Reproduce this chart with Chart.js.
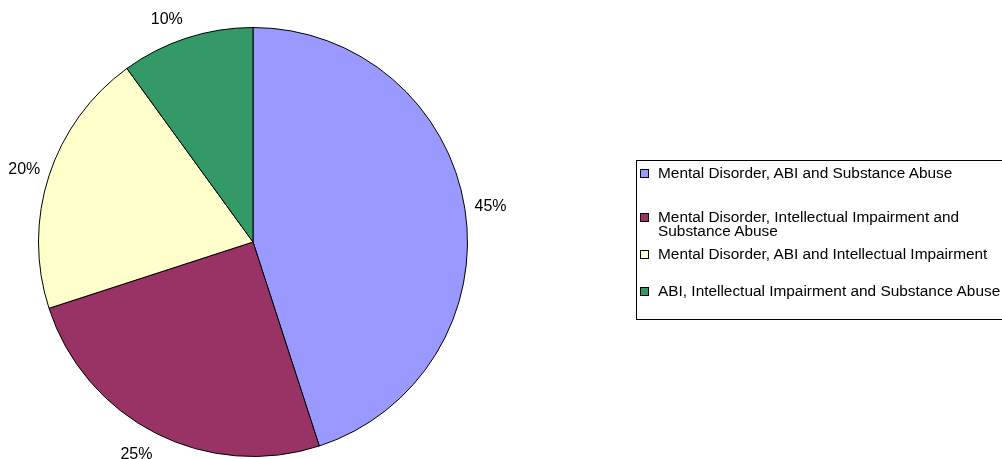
<!DOCTYPE html>
<html lang="en">
<head>
  <meta charset="UTF-8">
  <title>Pie chart</title>
  <style>
    body {
      margin: 0;
      background: #fff;
      font-family: "Liberation Sans", Arial, sans-serif;
    }
    #wrap {
      position: relative;
      width: 1002px;
      height: 459px;
      overflow: hidden;
    }
    #legend {
      position: absolute;
      left: 636px;
      top: 160px;
      width: 380px;
      height: 160px;
      border: 1px solid #000;
      box-sizing: border-box;
    }
    .item {
      position: absolute;
      left: 3px;
      font-size: 15.4px;
      line-height: 14px;
      color: #000;
    }
    .sw {
      position: absolute;
      left: 0;
      top: 3px;
      width: 7px;
      height: 7px;
      border: 1px solid #000;
    }
    .txt {
      margin-left: 18px;
      width: 345px;
    }
  </style>
</head>
<body>
  <div id="wrap">
    <canvas id="myChart" width="1002" height="459"></canvas>
    <div id="legend"></div>
  </div>

  <script src="https://cdn.jsdelivr.net/npm/chart.js"></script>
  <script>
    // datos
    var categories = [
      'Mental Disorder, ABI and Substance Abuse',
      'Mental Disorder, Intellectual Impairment and Substance Abuse',
      'Mental Disorder, ABI and Intellectual Impairment',
      'ABI, Intellectual Impairment and Substance Abuse'
    ];
    var values = [45, 25, 20, 10];
    var valueLabels = ['45%', '25%', '20%', '10%'];
    var colors = ['#9999FF', '#993366', '#FFFFCC', '#339966'];

    // small angle nudges (degrees) for the outside labels, like Excel placed them
    var labelNudge = [0, 2, 0, -3];
    // top offset of each legend entry inside the box
    var legendTops = [5, 49, 86, 123];

    var outsideLabels = {
      id: 'outsideLabels',
      afterDatasetsDraw: function(chart) {
        var ctx = chart.ctx;
        var arcs = chart.getDatasetMeta(0).data;
        ctx.save();
        ctx.font = '16px "Liberation Sans", Arial, sans-serif';
        ctx.fillStyle = '#000';
        ctx.textAlign = 'center';
        ctx.textBaseline = 'middle';
        arcs.forEach(function(arc, i) {
          var p = arc.getProps(['x', 'y', 'startAngle', 'endAngle', 'outerRadius'], true);
          var mid = (p.startAngle + p.endAngle) / 2 + labelNudge[i] * Math.PI / 180;
          var r = p.outerRadius + 26;
          ctx.fillText(valueLabels[i], p.x + r * Math.cos(mid), p.y + r * Math.sin(mid) + 2);
        });
        ctx.restore();
      }
    };

    var ctx = document.getElementById('myChart').getContext('2d');
    var myChart = new Chart(ctx, {
      type: 'pie',
      data: {
        labels: categories,
        datasets: [{
          data: values,
          backgroundColor: colors,
          borderColor: '#000',
          borderWidth: 1
        }]
      },
      options: {
        responsive: false,
        animation: false,
        layout: {
          padding: { left: 38, top: 27, right: 534, bottom: 2 }
        },
        plugins: {
          legend: { display: false },
          tooltip: { enabled: false }
        }
      },
      plugins: [outsideLabels]
    });

    // leyenda en html
    var legend = document.getElementById('legend');
    categories.forEach(function(name, i) {
      var item = document.createElement('div');
      item.className = 'item';
      item.style.top = legendTops[i] + 'px';
      item.innerHTML = '<span class="sw" style="background:' + colors[i] + '"></span>' +
        '<div class="txt">' + name + '</div>';
      legend.appendChild(item);
    });
  </script>
</body>
</html>
